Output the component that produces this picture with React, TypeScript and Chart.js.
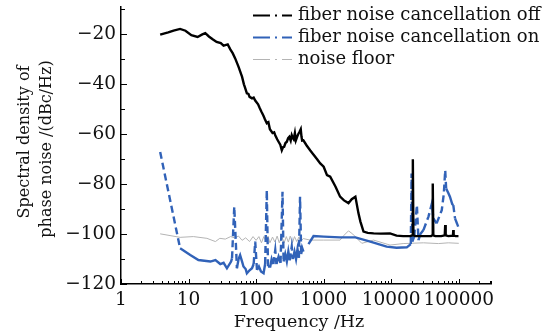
import React, { useEffect, useRef } from "react";
import { Chart, registerables } from "chart.js";

Chart.register(...registerables);

// ---- Data ----
const offFreq = [3.8, 5, 6, 7.5, 9, 11, 13.6, 16, 17.7, 20, 23, 26, 30, 33, 35, 38, 41.5, 45, 49, 55, 62, 66, 68, 73, 77, 80, 87, 92, 97, 107, 113, 120, 128, 135, 144, 152, 160, 175, 185, 192, 205, 215, 228, 240, 250, 260, 272, 285, 298, 310, 325, 337, 350, 360, 375, 388, 405, 420, 440, 458, 470, 480, 501, 560, 630, 700, 800, 890, 1000, 1120, 1250, 1500, 1750, 2000, 2330, 2600, 2950, 3270, 3500, 3890, 4500, 5500, 7000, 9600, 12000, 15000, 19000, 20500, 20900, 21300, 23000, 30000, 39000, 40500, 41200, 42000, 45000, 55000, 62000, 63000, 64000, 70000, 82000, 83000, 84000, 90000, 99000];
const offVals = [-20.1, -19.2, -18.5, -17.8, -18.5, -20.3, -21, -20, -19.5, -20.8, -22, -23, -23.5, -24.5, -24.3, -24, -26, -27.5, -29.6, -33, -37, -40, -41, -43.6, -43.8, -45, -45.6, -45.3, -46.5, -48, -49.5, -51, -52.5, -54, -55.6, -55.2, -58, -59.5, -59.2, -60.4, -62, -63, -64.2, -66.4, -65.2, -65, -63.5, -63, -61.5, -61, -62.5, -60.4, -61.5, -62, -59.5, -62.4, -61, -60, -59, -58, -61, -62.5, -62.4, -64.5, -66.4, -68, -70, -71.7, -73, -76.4, -77, -81, -85, -86.5, -87.6, -86, -85, -91.6, -95, -99, -99.5, -99.7, -99.8, -99.7, -100.6, -100.8, -100.8, -100.5, -70, -100.5, -100.8, -100.8, -100.8, -100.5, -79.7, -100.5, -100.8, -100.8, -100.5, -96.4, -100.5, -100.8, -100.6, -98.4, -100.6, -100.8, -100.8];

const onFreq = [3.8, 7.5, 10.6, 14, 21, 25, 29.5, 33, 37, 42.6, 44, 47.5, 52, 55, 58, 62, 65, 70, 73, 80, 87, 92, 97, 103, 110, 118, 129, 136, 144, 150, 162, 170, 180, 192, 200, 215, 230, 246, 255, 270, 285, 300, 315, 337, 350, 370, 390, 410, 430, 447, 465, 480, 502, 550, 596, 708, 1000, 1750, 2950, 4900, 8560, 12000, 17000, 19500, 20000, 20500, 21900, 24000, 25300, 27000, 30000, 35600, 40000, 42000, 47000, 56000, 60000, 63000, 65000, 70000, 74000, 80000, 83000, 88000, 98000];
const onVals = [-67.1, -105.7, -108.4, -110.4, -111, -110.4, -112, -111.5, -113.7, -111, -109.7, -89, -113.7, -110, -108.4, -111, -113, -114, -115.7, -114.5, -113.7, -112, -103, -114.4, -113, -115, -115.7, -112, -82.4, -113, -113, -110, -112, -106.4, -112, -109, -111.5, -83, -111, -108, -111, -107, -110.5, -105, -110, -107, -110, -106, -109.5, -85, -108, -105.5, -107, null, -104, -100.8, -101, -101.3, -101.3, -103, -105, -105.5, -105.3, -104, -75.7, -103, -101, -88.4, -102.4, -100, -98.4, -93, -87.7, -93.7, -95.7, -90.4, -84, -74.4, -81.7, -83.5, -85, -88, -88.4, -93.7, -97];

const floorFreq = [3.8, 7.5, 11.8, 18.7, 25, 29, 35, 42, 48, 55, 62, 70, 80, 90, 100, 110, 120, 130, 140, 150, 160, 175, 190, 205, 220, 240, 260, 280, 300, 320, 345, 370, 400, 430, 460, 500, 630, 1000, 1750, 2000, 2330, 2700, 3100, 3670, 5480, 9600, 15000, 19000, 30000, 50000, 70000, 100000];
const floorVals = [-99.9, -101.3, -101, -101.7, -103, -101.7, -102, -101, -101.5, -100.8, -102.5, -101.5, -103, -101, -102.5, -101, -103.5, -101, -102.8, -100.8, -103.5, -101.2, -103.2, -100.8, -103.5, -101, -103.5, -101, -103.2, -100.8, -103.5, -101, -103, -101.2, -102.8, -101.8, -102.4, -102.4, -102.4, -100.5, -98.7, -100, -101.7, -103.7, -102.4, -104.4, -103.8, -103.7, -103.5, -103.8, -103.5, -103.7];

const seriesNames = ["fiber noise cancellation off", "fiber noise cancellation on", "noise floor"];
const seriesColors = ["#000000", "#3162b8", "#b4b4b4"];
const xDecades = [1, 10, 100, 1000, 10000, 100000];
const yMajor = [-120, -100, -80, -60, -40, -20];
const yMinor = [-110, -90, -70, -50, -30, -10];
const yTitleLines = ["Spectral density of", "phase noise /(dBc/Hz)"];
const xTitle = "Frequency /Hz";

const FONT = "'DejaVu Serif', serif";

const toPts = (f: number[], v: (number | null)[]) => f.map((x, i) => ({ x, y: v[i] }));

const customPlugin = {
  id: "custom",
  afterDraw(chart: any) {
    const ctx = chart.ctx;
    const xs = chart.scales.x;
    const ys = chart.scales.y;
    const area = chart.chartArea;
    ctx.save();
    ctx.strokeStyle = "#000";
    ctx.lineWidth = 1;
    for (const d of xDecades) {
      for (let k = 1; k <= 9; k++) {
        const v = k * d;
        if (v > 300000) continue;
        const px = Math.round(xs.getPixelForValue(v)) + 0.5;
        const len = k === 1 ? 5 : 3;
        ctx.beginPath();
        ctx.moveTo(px, area.bottom);
        ctx.lineTo(px, area.bottom - len);
        ctx.stroke();
      }
    }
    {
      const px = Math.round(xs.getPixelForValue(300000)) - 0.5;
      ctx.beginPath();
      ctx.moveTo(px, area.bottom);
      ctx.lineTo(px, area.bottom - 3);
      ctx.stroke();
    }
    for (const v of yMajor) {
      const py = Math.round(ys.getPixelForValue(v)) + 0.5;
      ctx.beginPath();
      ctx.moveTo(area.left, py);
      ctx.lineTo(area.left + 6, py);
      ctx.stroke();
    }
    for (const v of yMinor) {
      const py = Math.round(ys.getPixelForValue(v)) + 0.5;
      ctx.beginPath();
      ctx.moveTo(area.left, py);
      ctx.lineTo(area.left + 4, py);
      ctx.stroke();
    }
    // axis titles
    ctx.fillStyle = "#111";
    ctx.textAlign = "center";
    ctx.textBaseline = "middle";
    ctx.font = "17.5px " + FONT;
    ctx.fillText(xTitle, 299, 322);
    ctx.font = "16px " + FONT;
    ctx.save();
    ctx.translate(25, 142);
    ctx.rotate(-Math.PI / 2);
    ctx.fillText(yTitleLines[0], 0, 0);
    ctx.restore();
    ctx.save();
    ctx.translate(47, 149);
    ctx.rotate(-Math.PI / 2);
    ctx.fillText(yTitleLines[1], 0, 0);
    ctx.restore();
    // legend
    const rows = [15, 37, 59];
    ctx.textAlign = "left";
    ctx.font = "18px " + FONT;
    for (let i = 0; i < 3; i++) {
      const y = rows[i];
      ctx.strokeStyle = seriesColors[i];
      ctx.lineWidth = i === 2 ? 1 : 2;
      ctx.setLineDash([17, 5, 2, 5]);
      ctx.beginPath();
      ctx.moveTo(253, y + 0.5);
      ctx.lineTo(292, y + 0.5);
      ctx.stroke();
      ctx.setLineDash([]);
      ctx.fillStyle = "#111";
      ctx.fillText(seriesNames[i], 298, y);
    }
    ctx.restore();
  },
};

export default function App() {
  const ref = useRef<HTMLCanvasElement | null>(null);
  useEffect(() => {
    document.body.style.margin = "0";
    const canvas = ref.current!;
    const chart = new Chart(canvas, {
      type: "line",
      data: {
        datasets: [
          {
            label: seriesNames[0],
            data: toPts(offFreq, offVals),
            borderColor: seriesColors[0],
            borderWidth: 2.4,
            pointRadius: 0,
            tension: 0,
          },
          {
            label: seriesNames[1],
            data: toPts(onFreq, onVals),
            borderColor: seriesColors[1],
            borderWidth: 2.4,
            pointRadius: 0,
            tension: 0,
            spanGaps: false,
            segment: {
              borderDash: (c: any) => (Math.abs(c.p1.y - c.p0.y) > 12 ? [7, 4] : undefined),
            },
          },
          {
            label: seriesNames[2],
            data: toPts(floorFreq, floorVals),
            borderColor: seriesColors[2],
            borderWidth: 1,
            pointRadius: 0,
            tension: 0,
          },
        ],
      },
      options: {
        animation: false,
        responsive: false,
        devicePixelRatio: 1,
        layout: { padding: { top: 7, right: 68, left: 0, bottom: 0 } },
        plugins: { legend: { display: false }, tooltip: { enabled: false } },
        scales: {
          x: {
            type: "logarithmic",
            min: 1,
            max: 300000,
            afterFit: (s: any) => { s.height = 52; s.paddingLeft = 0; s.paddingRight = 0; },
            grid: { drawOnChartArea: false, drawTicks: false },
            border: { display: true, color: "#000", width: 1.5 },
            ticks: {
              autoSkip: false,
              maxRotation: 0,
              padding: 5,
              color: "#111",
              font: { family: FONT, size: 18.5 },
              callback: (v: any) => {
                const n = Number(v);
                return xDecades.includes(n) ? String(n) : "";
              },
            },
          },
          y: {
            type: "linear",
            min: -120,
            max: -9,
            afterFit: (s: any) => { s.width = 121; s.paddingTop = 0; s.paddingBottom = 0; },
            grid: { drawOnChartArea: false, drawTicks: false },
            border: { display: true, color: "#000", width: 1.5 },
            ticks: {
              stepSize: 10,
              autoSkip: false,
              padding: 5,
              color: "#111",
              font: { family: FONT, size: 18.5 },
              callback: (v: any) => {
                const n = Number(v);
                return yMajor.includes(n) ? "\u2212" + Math.abs(n) : "";
              },
            },
          },
        },
      },
      plugins: [customPlugin],
    });
    return () => chart.destroy();
  }, []);
  return (
    <div style={{ position: "absolute", left: 0, top: 0, width: 559, height: 336, background: "#fff" }}>
      <canvas ref={ref} width={559} height={336} />
    </div>
  );
}
